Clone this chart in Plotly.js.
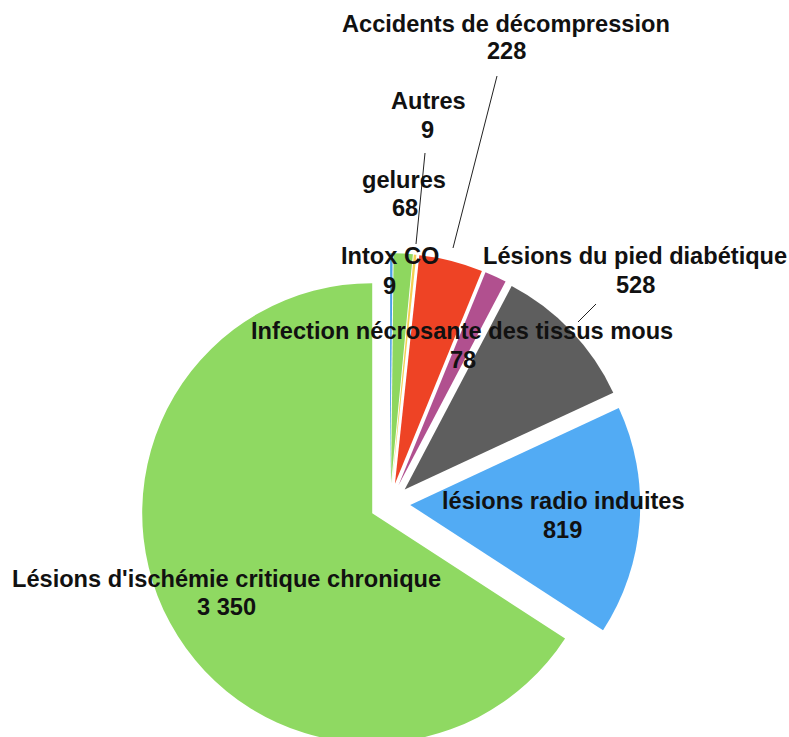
<!DOCTYPE html>
<html>
<head>
<meta charset="utf-8">
<script src="https://cdn.plot.ly/plotly-3.0.1.min.js"></script>
<style>
html,body{margin:0;padding:0;overflow:hidden;background:#fff;width:789px;height:737px;}
#chart{width:789px;height:1000px;}
</style>
</head>
<body>
<div id="chart"></div>
<script>
// ---- data ----
var categories = ['Intox CO', 'gelures', 'Autres', 'Accidents de décompression',
  'Infection nécrosante des tissus mous', 'Lésions du pied diabétique',
  'lésions radio induites', "Lésions d'ischémie critique chronique"];
var values = [9, 68, 9, 228, 78, 528, 819, 3350];
var colors = ['#4a9fe6', '#8ed75f', '#f4cf52', '#ee4325', '#b1508f', '#5e5e5e', '#52abf4', '#8fd962'];

// ---- layout helpers (pixel positions of labels, leader lines) ----
var W = 789, H = 1000;
function px(x) { return x / W; }
function py(y) { return 1 - y / H; }
function fmt(v) { return String(v).replace(/\B(?=(\d{3})+(?!\d))/g, ' '); }

// [labelX, labelY, valueX, valueY]
var labelPos = [
  [390, 256, 389, 286],
  [404, 180, 405, 208],
  [428, 101, 427, 130],
  [506, 24.5, 506, 51],
  [462, 331, 463, 360],
  [635, 256, 635, 285],
  [563, 501, 562, 530],
  [226, 579, 226, 607]
];
var leaders = [
  [425, 153, 416, 244],
  [497, 76, 453, 248],
  [596, 304, 578, 322]
];

var fontSpec = {family: 'Liberation Sans, Arial, Helvetica, sans-serif', size: 23.6, color: '#111'};
var annotations = [];
categories.forEach(function (c, i) {
  var p = labelPos[i];
  annotations.push({text: '<b>' + c + '</b>', x: px(p[0]), y: py(p[1]), xref: 'paper', yref: 'paper',
    xanchor: 'center', yanchor: 'middle', showarrow: false, font: fontSpec});
  annotations.push({text: '<b>' + fmt(values[i]) + '</b>', x: px(p[2]), y: py(p[3]), xref: 'paper', yref: 'paper',
    xanchor: 'center', yanchor: 'middle', showarrow: false, font: fontSpec});
});
var shapes = leaders.map(function (l) {
  return {type: 'line', xref: 'paper', yref: 'paper', x0: px(l[0]), y0: py(l[1]), x1: px(l[2]), y1: py(l[3]),
    line: {color: '#222', width: 1}};
});

var pull = 0.088;
var R = 230, cx = 390, cy = 503.5;
var half = R * (1 + pull);

var trace = {
  type: 'pie',
  labels: categories,
  values: values,
  sort: false,
  direction: 'clockwise',
  rotation: 0,
  pull: values.map(function () { return pull; }),
  marker: {colors: colors, line: {width: 0}},
  textinfo: 'none',
  hoverinfo: 'none',
  showlegend: false,
  domain: {x: [px(cx - half), px(cx + half)], y: [py(cy + half), py(cy - half)]}
};

var layout = {
  width: W, height: H,
  margin: {l: 0, r: 0, t: 0, b: 0},
  paper_bgcolor: '#ffffff',
  plot_bgcolor: '#ffffff',
  showlegend: false,
  annotations: annotations,
  shapes: shapes
};

Plotly.newPlot('chart', [trace], layout, {displayModeBar: false, staticPlot: true});
</script>
</body>
</html>
